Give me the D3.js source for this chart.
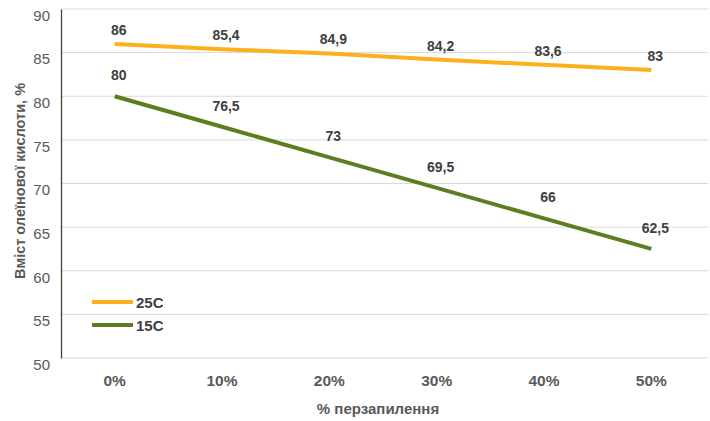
<!DOCTYPE html>
<html>
<head>
<meta charset="utf-8">
<script src="https://cdn.jsdelivr.net/npm/d3@7"></script>
<style>
  html, body { margin: 0; padding: 0; background: #fff; }
  svg { display: block; font-family: "Liberation Sans", Arial, Helvetica, sans-serif; }
</style>
</head>
<body>
<svg id="chart" width="710" height="421"></svg>
<script>
// Oleic acid content vs. share of cross-pollination, two temperatures
const categories = ["0%", "10%", "20%", "30%", "40%", "50%"];
const series25 = [86, 85.4, 84.9, 84.2, 83.6, 83];
const series15 = [80, 76.5, 73, 69.5, 66, 62.5];
const seriesNames = ["25C", "15C"];
const yTicks = [50, 55, 60, 65, 70, 75, 80, 85, 90];

const svg = d3.select("#chart");
const margin = { left: 61, right: 5, top: 9, bottom: 63 };
const W = 710, H = 421;

const x = d3.scaleBand().domain(categories).range([margin.left, W - margin.right]);
const y = d3.scaleLinear().domain([50, 90]).range([H - margin.bottom, margin.top]);
const cx = d => x(d) + x.bandwidth() / 2;

// horizontal gridlines
svg.append("g").selectAll("line").data(yTicks).join("line")
  .attr("x1", margin.left).attr("x2", W - 2)
  .attr("y1", d => y(d)).attr("y2", d => y(d))
  .attr("stroke", "#d9d9d9").attr("stroke-width", 1);

// y axis
const yAxis = svg.append("g")
  .attr("transform", `translate(${margin.left},0)`)
  .call(d3.axisLeft(y).tickValues(yTicks).tickSize(0).tickPadding(11));
yAxis.select(".domain").attr("stroke", "#404040").attr("stroke-width", 1.3);
yAxis.selectAll("text").attr("font-size", 15).attr("fill", "#595959")
  .attr("dy", "0.75em")
  .attr("font-family", "Liberation Sans, Arial, sans-serif");

// x axis labels
const xAxis = svg.append("g")
  .attr("transform", `translate(0,${H - margin.bottom})`)
  .call(d3.axisBottom(x).tickSize(0).tickPadding(17));
xAxis.select(".domain").remove();
xAxis.selectAll("text").attr("font-size", 15.5).attr("font-weight", "bold").attr("fill", "#595959")
  .attr("font-family", "Liberation Sans, Arial, sans-serif");

// axis titles
svg.append("text")
  .attr("x", (margin.left + W - margin.right) / 2 - 5).attr("y", 414)
  .attr("text-anchor", "middle").attr("font-size", 15).attr("font-weight", "bold")
  .attr("fill", "#595959").text("% перзапилення");

svg.append("text")
  .attr("transform", "translate(25,181) rotate(-90)")
  .attr("text-anchor", "middle").attr("font-size", 14.5).attr("font-weight", "bold")
  .attr("fill", "#595959").text("Вміст олеїнової кислоти, %");

const colors = ["#FDB01C", "#5B7F1F"];
const line = d3.line().x((d, i) => cx(categories[i])).y(d => y(d));

const allSeries = [series25, series15];
const labelDy = [-9, -16];

allSeries.forEach((s, k) => {
  svg.append("path").datum(s)
    .attr("d", line).attr("fill", "none")
    .attr("stroke", colors[k]).attr("stroke-width", 4).attr("stroke-linecap", "butt");

  svg.append("g").selectAll("text").data(s).join("text")
    .attr("x", (d, i) => cx(categories[i]) + 4)
    .attr("y", d => y(d) + labelDy[k])
    .attr("text-anchor", "middle").attr("font-size", 14).attr("font-weight", "bold")
    .attr("fill", "#404040")
    .text(d => String(d).replace(".", ","));
});

// legend
const legend = svg.append("g");
seriesNames.forEach((name, k) => {
  const ly = 302 + k * 23;
  legend.append("line").attr("x1", 92).attr("x2", 133).attr("y1", ly).attr("y2", ly)
    .attr("stroke", colors[k]).attr("stroke-width", 4);
  legend.append("text").attr("x", 136).attr("y", ly + 5.5)
    .attr("font-size", 15).attr("font-weight", "bold").attr("fill", "#404040").text(name);
});
</script>
</body>
</html>
